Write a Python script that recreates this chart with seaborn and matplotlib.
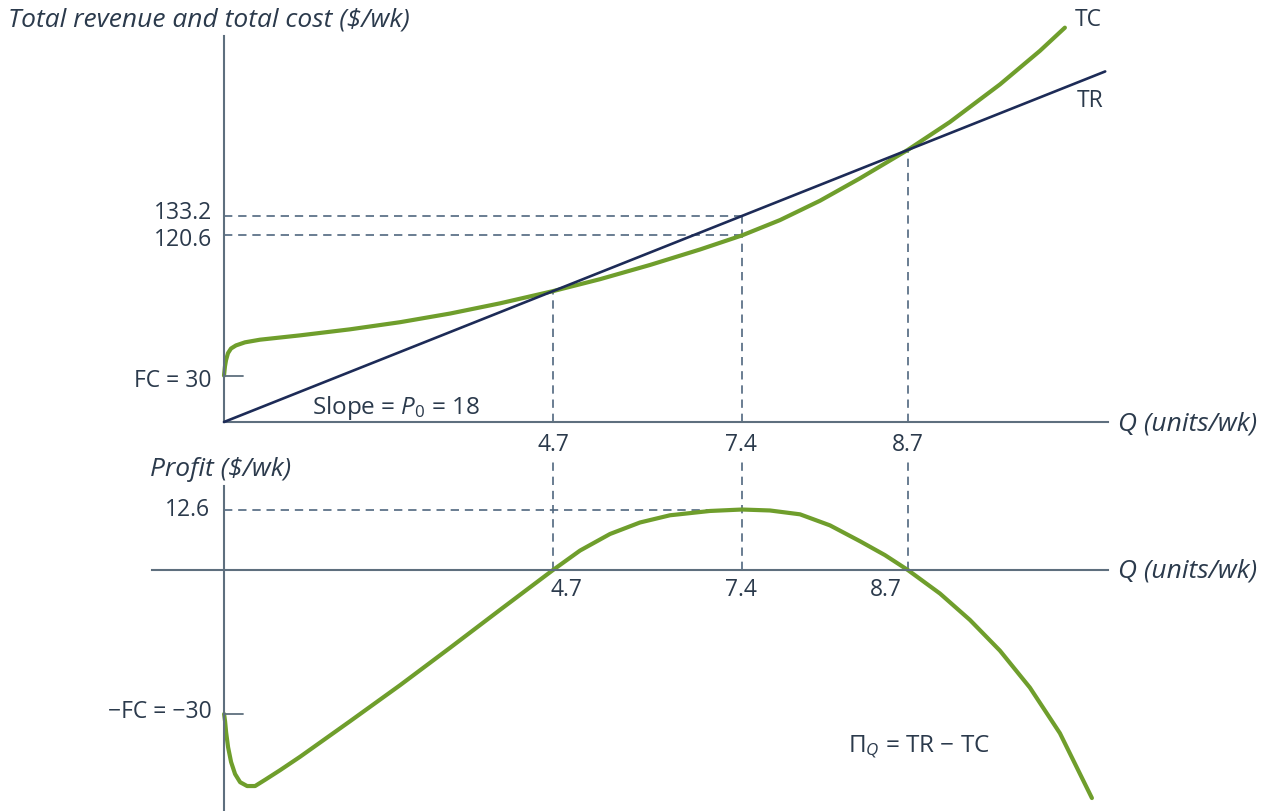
import matplotlib
matplotlib.use("Agg")
import matplotlib.pyplot as plt
import pandas as pd
import seaborn as sns

# the textbook sketch is not drawn to scale, so the break-even point
# labelled 8.7 sits further right on the drawn axis
q_labels = ["4.7", "7.4", "8.7"]
q_pos = [4.7, 7.4, 9.77]
price = 18
fixed_cost = 30
tr_at_q = [84.6, 133.2, 175.9]
tc_at_q = [84.6, 120.6, 175.9]
max_profit = 12.6

tr_q = [0.0, 12.59]
tr_val = [0.0, 226.6]

tc_q = [0.0, 0.014, 0.029, 0.057, 0.1, 0.171, 0.3, 0.514, 1.086, 1.8, 2.514,
        3.229, 3.943, 4.7, 5.371, 6.086, 6.8, 7.4, 7.943, 8.514, 9.086, 9.77,
        10.371, 11.086, 11.657, 12.014]
tc_val = [30.0, 36.0, 40.0, 44.5, 47.5, 49.5, 51.5, 53.2, 56.0, 59.9, 64.5,
          70.1, 76.7, 84.6, 92.3, 101.5, 111.5, 120.6, 130.5, 143.0, 157.5, 175.9,
          193.9, 218.2, 239.9, 254.9]

profit_q = [0.0, 0.014, 0.029, 0.057, 0.1, 0.157, 0.229, 0.329, 0.443, 0.586, 0.8,
            1.086, 1.443, 1.8, 2.514, 3.229, 3.943, 4.7, 5.086, 5.514, 5.943, 6.371,
            6.943, 7.4, 7.8, 8.229, 8.657, 9.086, 9.443, 9.77, 10.229, 10.657,
            11.086, 11.514, 11.943, 12.4]
profit_val = [-30.0, -31.5, -33.8, -36.9, -40.0, -42.5, -44.2, -45.0, -45.0, -43.7,
              -41.7, -38.9, -35.2, -31.5, -24.0, -16.2, -8.3, 0.0, 4.05, 7.5, 9.9,
              11.4, 12.3, 12.6, 12.4, 11.6, 9.3, 6.0, 3.1, 0.0, -4.9, -10.4, -16.8,
              -24.5, -34.0, -47.5]

GREEN = "#6f9e2c"
NAVY = "#1d2b57"
AXIS = "#5e6f7e"
DASH = "#50677f"
TEXT = "#2b3a4c"

sns.set_theme(style="white")
plt.rcParams["font.family"] = ["Open Sans", "DejaVu Sans"]
plt.rcParams["mathtext.fontset"] = "custom"
plt.rcParams["mathtext.rm"] = "Open Sans"
plt.rcParams["mathtext.it"] = "Open Sans:italic"

W, H = 1286, 812
fig = plt.figure(figsize=(W / 100, H / 100), dpi=100)


def fx(x):
    return x / W


def fy(y):
    return 1 - y / H


ax1 = fig.add_axes([fx(224), fy(423), (1108 - 224) / W, (423 - 20) / H])
ax2 = fig.add_axes([fx(152), 0, (1108 - 152) / W, (812 - 458) / H])

dash_kw = dict(color=DASH, linestyle=(0, (5, 3.5)), linewidth=1.2, zorder=1)

# top panel: total revenue and total cost
tc_df = pd.DataFrame({"Q": tc_q, "TC": tc_val})
tr_df = pd.DataFrame({"Q": tr_q, "TR": tr_val})
for q, tr, tc in zip(q_pos, tr_at_q, tc_at_q):
    ax1.plot([q, q], [0, max(tr, tc)], **dash_kw)
ax1.plot([0, q_pos[1]], [tr_at_q[1]] * 2, **dash_kw)
ax1.plot([0, q_pos[1]], [tc_at_q[1]] * 2, **dash_kw)
sns.lineplot(data=tr_df, x="Q", y="TR", ax=ax1, color=NAVY, linewidth=1.9,
             zorder=3, clip_on=False)
sns.lineplot(data=tc_df, x="Q", y="TC", ax=ax1, color=GREEN, linewidth=3.0,
             zorder=2, clip_on=False)
ax1.plot([0, 0.27], [fixed_cost, fixed_cost], color=AXIS, linewidth=1.3)

ax1.set_xlim(0, 12.63)
ax1.set_ylim(0, 260.5)
ax1.spines["top"].set_visible(False)
ax1.spines["right"].set_visible(False)
ax1.spines["left"].set_bounds(0, 249.5)
for s in ("left", "bottom"):
    ax1.spines[s].set_color(AXIS)
    ax1.spines[s].set_linewidth(1.5)
ax1.set_xticks([])
ax1.set_yticks([])
ax1.set_xlabel("")
ax1.set_ylabel("")
ax1.patch.set_alpha(0)

# bottom panel: profit
profit_df = pd.DataFrame({"Q": profit_q, "Profit": profit_val})
for q in q_pos:
    ax2.plot([q, q], [0, 23.5], **dash_kw)
ax2.plot([0, q_pos[1]], [max_profit, max_profit], **dash_kw)
sns.lineplot(data=profit_df, x="Q", y="Profit", ax=ax2, color=GREEN,
             linewidth=3.0, zorder=2, clip_on=False)
ax2.plot([0, 0.27], [-fixed_cost, -fixed_cost], color=AXIS, linewidth=1.3)

ax2.set_xlim(-1.03, 12.63)
ax2.set_ylim(-50.2, 23.54)
ax2.spines["top"].set_visible(False)
ax2.spines["right"].set_visible(False)
ax2.spines["left"].set_position(("data", 0))
ax2.spines["bottom"].set_position(("data", 0))
ax2.spines["left"].set_bounds(-50.2, 17.5)
for s in ("left", "bottom"):
    ax2.spines[s].set_color(AXIS)
    ax2.spines[s].set_linewidth(1.5)
ax2.set_xticks([])
ax2.set_yticks([])
ax2.set_xlabel("")
ax2.set_ylabel("")
ax2.patch.set_alpha(0)

# labels
fs = 16.5
fi = 19
fig.text(fx(8), fy(20), "Total revenue and total cost ($/wk)", style="italic",
         fontsize=fi, color=TEXT, va="center", ha="left")
fig.text(fx(1075), fy(20), "TC", fontsize=fs, color=TEXT, va="center")
fig.text(fx(1077), fy(101), "TR", fontsize=fs, color=TEXT, va="center")
fig.text(fx(212), fy(213), "133.2", fontsize=fs, color=TEXT, va="center", ha="right")
fig.text(fx(212), fy(240), "120.6", fontsize=fs, color=TEXT, va="center", ha="right")
fig.text(fx(212), fy(381), "FC = 30", fontsize=fs, color=TEXT, va="center", ha="right")
fig.text(fx(312), fy(408), r"Slope = $P_0$ = 18", fontsize=fs + 1, color=TEXT,
         va="center")
for qx, lab in zip([553, 741, 908], q_labels):
    fig.text(fx(qx), fy(445), lab, fontsize=fs, color=TEXT, va="center", ha="center")
fig.text(fx(1118), fy(424), "Q (units/wk)", style="italic", fontsize=fi,
         color=TEXT, va="center")
fig.text(fx(150), fy(470), "Profit ($/wk)", style="italic", fontsize=fi,
         color=TEXT, va="center")
fig.text(fx(210), fy(510), "12.6", fontsize=fs, color=TEXT, va="center", ha="right")
for qx, lab in zip([566, 741, 886], q_labels):
    fig.text(fx(qx), fy(590), lab, fontsize=fs, color=TEXT, va="center", ha="center")
fig.text(fx(1118), fy(571), "Q (units/wk)", style="italic", fontsize=fi,
         color=TEXT, va="center")
fig.text(fx(212), fy(712), "\u2212FC = \u221230", fontsize=fs, color=TEXT,
         va="center", ha="right")
fig.text(fx(848), fy(747), "$\\Pi_Q$ = TR \u2212 TC", fontsize=fs + 1, color=TEXT,
         va="center")

fig.savefig("out.png", dpi=100)
